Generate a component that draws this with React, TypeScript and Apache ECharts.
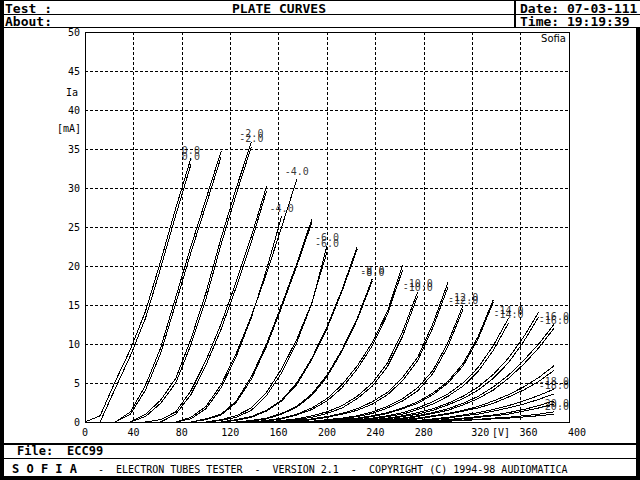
import React, { useEffect, useRef } from "react";
import * as echarts from "echarts";

type Pt = [number, number];

// Grid voltages (V) and plate current curves (Va [V], Ia [mA]) for both triode sections
const gridVolts = [0, -1, -2, -3, -4, -5, -6, -7, -8, -9, -10, -11, -12, -13, -14, -15, -16, -17, -18, -19, -20];

const vg0A: Pt[] = [[0, 0], [12.5, 0.8], [25, 5.2], [37.5, 9.3], [50, 14.2], [62.5, 20.6], [75, 27.4], [87.5, 33.8]];
const vg0B: Pt[] = [[12.5, 0], [25, 4.3], [37.5, 8.5], [50, 13.3], [62.5, 19.7], [75, 26.5], [87.5, 33.0]];
const vg1A: Pt[] = [[25, 0], [37.5, 1.3], [50, 4.7], [62.5, 9.5], [75, 16.0], [87.5, 22.5], [100, 28.6], [112.5, 34.7]];
const vg1B: Pt[] = [[25, 0], [37.5, 1.0], [50, 4.1], [62.5, 8.8], [75, 15.2], [87.5, 21.7], [100, 27.8], [112.5, 34.0]];
const vg2A: Pt[] = [[37.5, 0], [50, 1.0], [62.5, 2.8], [75, 5.6], [87.5, 10.6], [100, 16.6], [112.5, 23.6], [125, 30.0], [137.5, 35.9]];
const vg2B: Pt[] = [[37.5, 0], [50, 0.7], [62.5, 2.4], [75, 5.0], [87.5, 9.9], [100, 15.8], [112.5, 22.8], [125, 29.2], [137.5, 35.3]];
const vg3A: Pt[] = [[50, 0], [62.5, 0.3], [75, 1.3], [87.5, 4.0], [100, 7.9], [112.5, 12.6], [125, 18.0], [137.5, 23.8], [150, 30.2]];
const vg3B: Pt[] = [[62.5, 0], [75, 1.0], [87.5, 3.5], [100, 7.3], [112.5, 11.9], [125, 17.3], [137.5, 23.1], [150, 29.6]];
const vg4A: Pt[] = [[75, 0], [87.5, 0.6], [100, 2.0], [112.5, 4.8], [125, 8.8], [137.5, 13.6], [150, 19.0], [162.5, 25.0], [175, 31.1]];
const vg4B: Pt[] = [[75, 0], [87.5, 0.4], [100, 1.7], [112.5, 4.4], [125, 8.4], [137.5, 13.4], [150, 19.5], [162.5, 26.4]];
const vg5A: Pt[] = [[87.5, 0], [100, 0.4], [112.5, 1.0], [125, 2.7], [137.5, 5.8], [150, 10.0], [162.5, 15.0], [175, 20.3], [187.5, 26.0]];
const vg5B: Pt[] = [[87.5, 0], [100, 0.3], [112.5, 0.9], [125, 2.5], [137.5, 5.5], [150, 9.7], [162.5, 14.7], [175, 20.0], [187.5, 25.6]];
const vg6A: Pt[] = [[100, 0], [112.5, 0.3], [125, 0.8], [137.5, 1.8], [150, 3.8], [162.5, 6.8], [175, 10.6], [187.5, 15.3], [200, 21.8]];
const vg6B: Pt[] = [[100, 0], [112.5, 0.2], [125, 0.6], [137.5, 1.5], [150, 3.4], [162.5, 6.3], [175, 10.2], [187.5, 15.2], [200, 22.6]];
const vg7A: Pt[] = [[112.5, 0], [125, 0.3], [137.5, 0.7], [150, 1.5], [162.5, 2.8], [175, 5.0], [187.5, 8.2], [200, 12.2], [212.5, 17.0], [225, 22.5]];
const vg7B: Pt[] = [[112.5, 0], [125, 0.2], [137.5, 0.6], [150, 1.4], [162.5, 2.7], [175, 4.8], [187.5, 8.0], [200, 12.0], [212.5, 16.8], [225, 22.2]];
const vg8A: Pt[] = [[125, 0], [137.5, 0.2], [150, 0.5], [162.5, 1.1], [175, 2.0], [187.5, 3.6], [200, 6.0], [212.5, 9.3], [225, 13.3], [237.5, 18.4]];
const vg8B: Pt[] = [[125, 0], [137.5, 0.1], [150, 0.4], [162.5, 1.0], [175, 1.9], [187.5, 3.4], [200, 5.8], [212.5, 9.1], [225, 13.1], [237.5, 18.1]];
const vg9A: Pt[] = [[137.5, 0], [150, 0.2], [162.5, 0.5], [175, 1.0], [187.5, 1.8], [200, 3.0], [212.5, 4.8], [225, 7.2], [237.5, 10.2], [250, 14.2], [262.5, 20.1]];
const vg9B: Pt[] = [[137.5, 0], [150, 0.1], [162.5, 0.4], [175, 0.9], [187.5, 1.6], [200, 2.7], [212.5, 4.4], [225, 6.8], [237.5, 9.8], [250, 13.8], [262.5, 19.5]];
const vg10A: Pt[] = [[150, 0], [162.5, 0.2], [175, 0.4], [187.5, 0.8], [200, 1.3], [212.5, 2.1], [225, 3.3], [237.5, 5.0], [250, 7.6], [262.5, 11.6], [275, 16.7]];
const vg10B: Pt[] = [[150, 0], [162.5, 0.1], [175, 0.3], [187.5, 0.6], [200, 1.1], [212.5, 1.8], [225, 3.0], [237.5, 4.6], [250, 7.1], [262.5, 11.0], [275, 16.2]];
const vg11A: Pt[] = [[162.5, 0], [175, 0.2], [187.5, 0.4], [200, 0.7], [212.5, 1.1], [225, 1.7], [237.5, 2.6], [250, 3.8], [262.5, 5.7], [275, 8.3], [287.5, 12.6], [300, 17.9]];
const vg11B: Pt[] = [[162.5, 0], [175, 0.1], [187.5, 0.3], [200, 0.6], [212.5, 1.0], [225, 1.5], [237.5, 2.3], [250, 3.5], [262.5, 5.3], [275, 7.9], [287.5, 12.1], [300, 17.3]];
const vg12A: Pt[] = [[175, 0], [187.5, 0.1], [200, 0.3], [212.5, 0.5], [225, 0.8], [237.5, 1.3], [250, 2.0], [262.5, 3.0], [275, 4.4], [287.5, 6.6], [300, 10.2], [312.5, 15.0]];
const vg12B: Pt[] = [[175, 0], [187.5, 0.1], [200, 0.2], [212.5, 0.4], [225, 0.7], [237.5, 1.1], [250, 1.8], [262.5, 2.7], [275, 4.0], [287.5, 6.2], [300, 9.7], [312.5, 14.5]];
const vg13A: Pt[] = [[187.5, 0], [200, 0.1], [212.5, 0.3], [225, 0.5], [237.5, 0.8], [250, 1.2], [262.5, 1.8], [275, 2.6], [287.5, 3.7], [300, 5.2], [312.5, 7.5], [325, 11.0], [337.5, 15.7]];
const vg13B: Pt[] = [[187.5, 0], [200, 0.1], [212.5, 0.2], [225, 0.4], [237.5, 0.7], [250, 1.1], [262.5, 1.7], [275, 2.4], [287.5, 3.5], [300, 5.0], [312.5, 7.2], [325, 10.7], [337.5, 15.4]];
const vg14A: Pt[] = [[200, 0], [212.5, 0.1], [225, 0.3], [237.5, 0.5], [250, 0.8], [262.5, 1.2], [275, 1.8], [287.5, 2.6], [300, 3.6], [312.5, 5.0], [325, 7.0], [337.5, 9.8], [350, 13.3]];
const vg14B: Pt[] = [[200, 0], [212.5, 0.1], [225, 0.2], [237.5, 0.4], [250, 0.7], [262.5, 1.0], [275, 1.6], [287.5, 2.3], [300, 3.3], [312.5, 4.6], [325, 6.5], [337.5, 9.2], [350, 12.7]];
const vg15A: Pt[] = [[212.5, 0], [225, 0.1], [237.5, 0.3], [250, 0.5], [262.5, 0.8], [275, 1.2], [287.5, 1.7], [300, 2.4], [312.5, 3.3], [325, 4.5], [337.5, 6.1], [350, 8.2], [362.5, 10.9], [375, 14.1]];
const vg15B: Pt[] = [[212.5, 0], [225, 0.1], [237.5, 0.2], [250, 0.4], [262.5, 0.7], [275, 1.0], [287.5, 1.5], [300, 2.2], [312.5, 3.0], [325, 4.1], [337.5, 5.6], [350, 7.6], [362.5, 10.3], [375, 13.5]];
const vg16A: Pt[] = [[225, 0], [237.5, 0.1], [250, 0.3], [262.5, 0.5], [275, 0.8], [287.5, 1.2], [300, 1.7], [312.5, 2.4], [325, 3.3], [337.5, 4.5], [350, 6.0], [362.5, 7.9], [375, 10.0], [387.5, 12.5]];
const vg16B: Pt[] = [[225, 0], [237.5, 0.1], [250, 0.2], [262.5, 0.4], [275, 0.7], [287.5, 1.1], [300, 1.5], [312.5, 2.2], [325, 3.0], [337.5, 4.1], [350, 5.6], [362.5, 7.4], [375, 9.5], [387.5, 12.0]];
const vg17A: Pt[] = [[237.5, 0], [250, 0.1], [262.5, 0.3], [275, 0.5], [287.5, 0.8], [300, 1.1], [312.5, 1.5], [325, 2.0], [337.5, 2.7], [350, 3.5], [362.5, 4.5], [375, 5.7], [387.5, 7.2]];
const vg17B: Pt[] = [[237.5, 0], [250, 0.1], [262.5, 0.2], [275, 0.4], [287.5, 0.7], [300, 1.0], [312.5, 1.4], [325, 1.8], [337.5, 2.4], [350, 3.2], [362.5, 4.1], [375, 5.2], [387.5, 6.6]];
const vg18A: Pt[] = [[250, 0], [262.5, 0.1], [275, 0.2], [287.5, 0.4], [300, 0.6], [312.5, 0.9], [325, 1.2], [337.5, 1.6], [350, 2.1], [362.5, 2.7], [375, 3.4], [387.5, 4.2]];
const vg18B: Pt[] = [[250, 0], [262.5, 0.1], [275, 0.2], [287.5, 0.3], [300, 0.5], [312.5, 0.8], [325, 1.0], [337.5, 1.4], [350, 1.8], [362.5, 2.3], [375, 2.9], [387.5, 3.6]];
const vg19A: Pt[] = [[262.5, 0], [275, 0.1], [287.5, 0.2], [300, 0.3], [312.5, 0.5], [325, 0.7], [337.5, 0.9], [350, 1.2], [362.5, 1.6], [375, 2.1], [387.5, 2.7]];
const vg19B: Pt[] = [[262.5, 0], [275, 0.1], [287.5, 0.15], [300, 0.25], [312.5, 0.4], [325, 0.6], [337.5, 0.8], [350, 1.0], [362.5, 1.4], [375, 1.8], [387.5, 2.3]];
const vg20A: Pt[] = [[275, 0], [287.5, 0.1], [300, 0.15], [312.5, 0.25], [325, 0.35], [337.5, 0.5], [350, 0.6], [362.5, 0.8], [375, 1.0], [387.5, 1.3]];
const vg20B: Pt[] = [[275, 0], [287.5, 0.05], [300, 0.1], [312.5, 0.2], [325, 0.3], [337.5, 0.4], [350, 0.5], [362.5, 0.65], [375, 0.8], [387.5, 1.0]];

const sectionA: Pt[][] = [vg0A, vg1A, vg2A, vg3A, vg4A, vg5A, vg6A, vg7A, vg8A, vg9A, vg10A, vg11A, vg12A, vg13A, vg14A, vg15A, vg16A, vg17A, vg18A, vg19A, vg20A];
const sectionB: Pt[][] = [vg0B, vg1B, vg2B, vg3B, vg4B, vg5B, vg6B, vg7B, vg8B, vg9B, vg10B, vg11B, vg12B, vg13B, vg14B, vg15B, vg16B, vg17B, vg18B, vg19B, vg20B];

const xTicks = { min: 0, max: 400, interval: 40 };
const yTicks = { min: 0, max: 50, interval: 5 };

const MONO = '"DejaVu Sans Mono", "Liberation Mono", monospace';

function txt(x: number, y: number, text: string, font: string, align = "left") {
  return {
    type: "text",
    x,
    y,
    z: 100,
    silent: true,
    style: {
      text,
      fill: "#000",
      font,
      textAlign: align,
      textVerticalAlign: "middle",
      align,
      verticalAlign: "middle",
    },
  };
}

function box(x: number, y: number, w: number, h: number) {
  return { type: "rect", z: -100, silent: true, shape: { x, y, width: w, height: h }, style: { fill: "#fff" } };
}

export default function App() {
  const ref = useRef<HTMLDivElement>(null);
  useEffect(() => {
    if (!ref.current) return;
    const chart = echarts.init(ref.current, null, { renderer: "svg", width: 640, height: 480 });

    const lineSeries: any[] = [];
    const labelData: any[] = [];
    const labelStyle = {
      show: true,
      position: "top",
      distance: 3,
      color: "#000",
      fontFamily: MONO,
      fontSize: 10,
      textBorderWidth: 0,
    };
    gridVolts.forEach((vg, i) => {
      [sectionA[i], sectionB[i]].forEach((pts) => {
        lineSeries.push({
          type: "line",
          data: pts,
          symbol: "none",
          silent: true,
          z: 3,
          color: "#000",
          lineStyle: { color: "#000", width: 1 },
        });
        if (vg % 2 === 0) {
          const last = pts[pts.length - 1];
          labelData.push({ value: [last[0], last[1]], label: { formatter: vg.toFixed(1) } });
        }
      });
    });

    const axisLabelBase = { color: "#000", fontFamily: MONO, fontSize: 10 };

    chart.setOption({
      animation: false,
      backgroundColor: "#000",
      color: ["#000"],
      grid: { left: 85, top: 32, width: 484, height: 390, show: true, borderColor: "#000", borderWidth: 1, backgroundColor: "transparent" },
      xAxis: {
        type: "value",
        min: xTicks.min,
        max: xTicks.max,
        interval: xTicks.interval,
        axisLine: { show: true, onZero: false, lineStyle: { color: "#000", width: 1 } },
        axisTick: { show: false },
        splitLine: { show: true, lineStyle: { color: "#000", width: 1, type: [3, 2] } },
        axisLabel: {
          ...axisLabelBase,
          margin: 5,
          formatter: (v: number) => (v === 320 || v === 360 ? `{s|${v}}` : v === 400 ? `{t|${v}}` : `${v}`),
          rich: {
            s: { ...axisLabelBase, padding: [0, 0, 0, 16] },
            t: { ...axisLabelBase, padding: [0, 0, 0, 16] },
          },
        },
      },
      yAxis: {
        type: "value",
        min: yTicks.min,
        max: yTicks.max,
        interval: yTicks.interval,
        axisLine: { show: true, onZero: false, lineStyle: { color: "#000", width: 1 } },
        axisTick: { show: false },
        splitLine: { show: true, lineStyle: { color: "#000", width: 1, type: [3, 2] } },
        axisLabel: { ...axisLabelBase, margin: 5 },
      },
      series: [
        ...lineSeries,
        {
          type: "scatter",
          data: labelData,
          symbol: "circle",
          symbolSize: 0,
          silent: true,
          z: 4,
          itemStyle: { color: "#000" },
          label: labelStyle,
        },
      ],
      graphic: {
        elements: [
          box(4, 1, 510, 13),
          box(516, 1, 124, 13),
          box(4, 15, 510, 12),
          box(516, 15, 124, 12),
          box(4, 28, 632, 415),
          box(4, 445, 632, 13),
          box(4, 459, 632, 17),
          txt(5, 8, "Test :", `bold 13px ${MONO}`),
          txt(279, 8, "PLATE CURVES", `bold 13px ${MONO}`, "center"),
          txt(520, 8, "Date: 07-03-111", `bold 13px ${MONO}`),
          txt(5, 21, "About:", `bold 13px ${MONO}`),
          txt(520, 21, "Time: 19:19:39", `bold 13px ${MONO}`),
          txt(566, 38, "Sofia", `10px "DejaVu Sans", sans-serif`, "right"),
          txt(72, 92, "Ia", `10px ${MONO}`, "center"),
          txt(69, 128, "[mA]", `10px ${MONO}`, "center"),
          txt(501, 432, "[V]", `10px ${MONO}`, "center"),
          txt(17, 451, "File:", `bold 12px ${MONO}`),
          txt(67, 451, "ECC99", `bold 12px ${MONO}`),
          txt(12, 469, "S O F I A", `bold 12px ${MONO}`),
          txt(98, 469, "-  ELECTRON TUBES TESTER  -  VERSION 2.1  -  COPYRIGHT (C) 1994-98 AUDIOMATICA", `10px ${MONO}`),
        ],
      },
    });

    const svg = ref.current.querySelector("svg");
    if (svg) svg.setAttribute("shape-rendering", "crispEdges");

    return () => chart.dispose();
  }, []);

  return <div ref={ref} style={{ position: "fixed", left: 0, top: 0, width: 640, height: 480 }} />;
}
